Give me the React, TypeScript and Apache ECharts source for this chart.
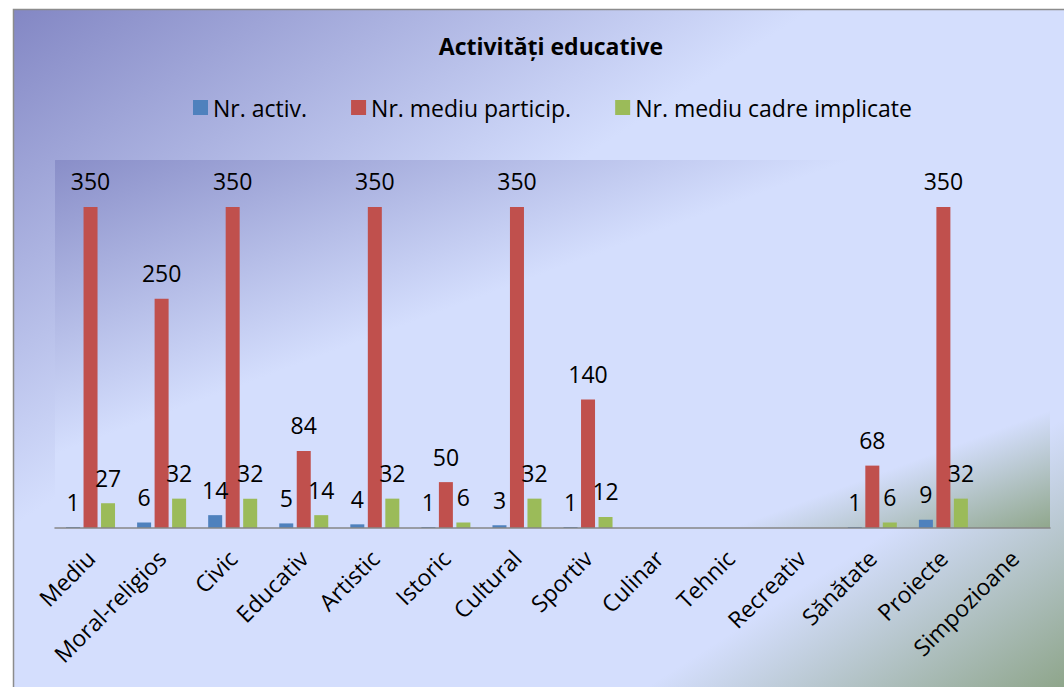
import React, { useEffect, useRef } from "react";
import * as echarts from "echarts";

const categories = [
  "Mediu", "Moral-religios", "Civic", "Educativ", "Artistic", "Istoric", "Cultural",
  "Sportiv", "Culinar", "Tehnic", "Recreativ", "Sănătate", "Proiecte", "Simpozioane",
];
const nrActiv = [1, 6, 14, 5, 4, 1, 3, 1, null, null, null, 1, 9, null];
const nrParticip = [350, 250, 350, 84, 350, 50, 350, 140, null, null, null, 68, 350, null];
const nrCadre = [27, 32, 32, 14, 32, 6, 32, 12, null, null, null, 6, 32, null];
const seriesNames = ["Nr. activ.", "Nr. mediu particip.", "Nr. mediu cadre implicate"];
const titleText = "Activități educative";

const FONT = "'Open Sans', 'Noto Sans', sans-serif";

export default function App() {
  const ref = useRef<HTMLDivElement>(null);
  useEffect(() => {
    if (!ref.current) return;
    const chart = echarts.init(ref.current, undefined, { renderer: "svg" });
    const grad = (stops: [number, string][]) =>
      new echarts.graphic.LinearGradient(0, 0, 1, 1, stops.map(([offset, color]) => ({ offset, color })));
    const label = {
      show: true,
      position: "top" as const,
      distance: 14,
      color: "#000",
      fontSize: 23,
      fontFamily: FONT,
    };
    const mk = (name: string, data: (number | null)[], color: string) => ({
      name,
      type: "bar" as const,
      data,
      barWidth: 14,
      barGap: "25%",
      itemStyle: { color },
      label,
      z: 5,
    });
    chart.setOption({
      animation: false,
      backgroundColor: "#ffffff",
      title: {
        text: titleText,
        left: 546,
        top: 29,
        textAlign: "center",
        textStyle: { fontFamily: FONT, fontSize: 23, fontWeight: "bold", color: "#000" },
      },
      legend: {
        data: seriesNames,
        left: 188,
        top: 91,
        itemWidth: 15,
        itemHeight: 15,
        itemGap: 44,
        icon: "rect",
        textStyle: { fontFamily: FONT, fontSize: 23, color: "#000" },
      },
      graphic: [
        {
          type: "rect",
          z: -100,
          silent: true,
          shape: { x: 13.5, y: 9.5, width: 1052, height: 679 },
          style: {
            fill: grad([
              [0, "#8387c4"],
              [0.38, "#d4defd"],
              [0.8, "#d4defd"],
              [1, "#8ea58a"],
            ]),
            stroke: "#8c8c8c",
            lineWidth: 1.5,
          },
        },
        {
          type: "rect",
          z: -90,
          silent: true,
          shape: { x: 55, y: 160, width: 995, height: 368 },
          style: {
            fill: grad([
              [0, "#898ec8"],
              [0.4, "#d4defd"],
              [0.84, "#d4defd"],
              [1, "#90a78c"],
            ]),
          },
        },
      ],
      grid: { left: 55, right: 14, top: 161, bottom: 159, containLabel: false },
      xAxis: {
        type: "category",
        data: categories,
        z: 6,
        axisLine: { show: true, lineStyle: { color: "#868686", width: 1.5 } },
        axisTick: { show: false },
        axisLabel: {
          rotate: 45,
          interval: 0,
          margin: 26,
          color: "#000",
          fontSize: 23,
          fontFamily: FONT,
        },
      },
      yAxis: {
        type: "value",
        min: 0,
        max: 400,
        show: false,
        splitLine: { show: false },
      },
      series: [
        mk(seriesNames[0], nrActiv, "#4f81bd"),
        mk(seriesNames[1], nrParticip, "#c0504d"),
        mk(seriesNames[2], nrCadre, "#9bbb59"),
      ],
    });
    return () => chart.dispose();
  }, []);
  return (
    <div
      ref={ref}
      style={{ position: "fixed", left: 0, top: 0, width: 1064, height: 687 }}
    />
  );
}
